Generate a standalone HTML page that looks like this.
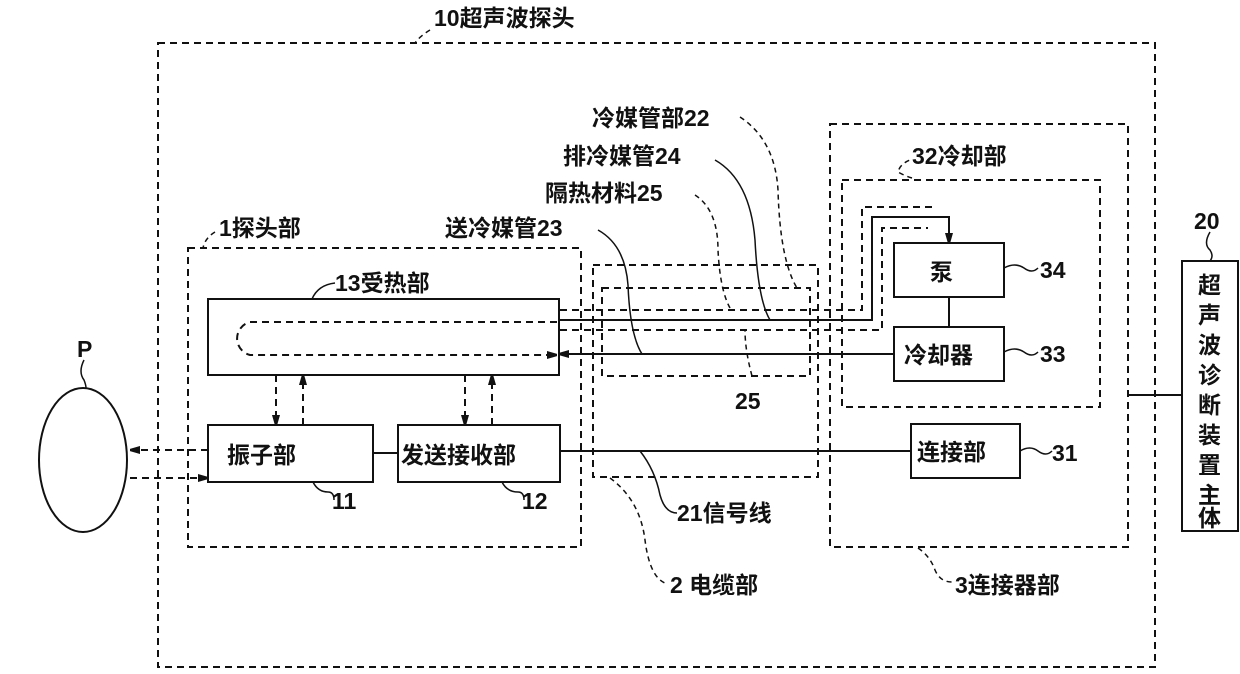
<!DOCTYPE html>
<html><head><meta charset="utf-8"><style>
body{margin:0;background:#fff}
svg text{font-family:"Liberation Sans","Noto Sans CJK SC",sans-serif;font-size:23px;fill:#111;font-weight:bold}
</style></head><body>
<svg width="1240" height="669" viewBox="0 0 1240 669" xmlns="http://www.w3.org/2000/svg">
<defs>
<marker id="a" markerWidth="10" markerHeight="8" refX="10" refY="4" orient="auto" markerUnits="userSpaceOnUse"><path d="M0,0 L14,4 L0,8 Z" fill="#111"/></marker>
</defs>
<g fill="none" stroke="#111" stroke-width="2" stroke-dasharray="7,5">
<rect x="158" y="43" width="997" height="624"/>
<rect x="188" y="248" width="393" height="299"/>
<rect x="593" y="265" width="225" height="212"/>
<rect x="602" y="288" width="208" height="88"/>
<rect x="830" y="124" width="298" height="423"/>
<rect x="842" y="180" width="258" height="227"/>
<path d="M557,322 H250 A17,17 0 0 0 250,355 H557" marker-end="url(#a)"/>
<line x1="276" y1="375" x2="276" y2="425" marker-end="url(#a)"/>
<line x1="303" y1="425" x2="303" y2="375" marker-end="url(#a)"/>
<line x1="465" y1="375" x2="465" y2="425" marker-end="url(#a)"/>
<line x1="492" y1="425" x2="492" y2="375" marker-end="url(#a)"/>
<line x1="208" y1="450" x2="130" y2="450" marker-end="url(#a)"/>
<line x1="130" y1="478" x2="208" y2="478" marker-end="url(#a)"/>
<path d="M560,310 H862 V207 H932"/>
<path d="M560,330 H882 V228 H928"/>
</g>
<g fill="none" stroke="#111" stroke-width="1.5" stroke-dasharray="5,4">
<path d="M430,30 Q420,36 415,43"/>
<path d="M215,232 Q205,238 203,248"/>
<path d="M740,117 Q775,140 778,190 Q780,260 797,288"/>
<path d="M695,195 Q718,210 718,250 Q720,290 730,308"/>
<path d="M752,376 Q745,350 745,330"/>
<path d="M610,478 Q640,500 645,540 Q650,580 668,584"/>
<path d="M918,548 Q930,556 935,570 Q940,582 952,582"/>
<path d="M912,178 Q905,176 898,172 Q900,164 910,160"/>
</g>
<g fill="none" stroke="#111" stroke-width="1.5">
<path d="M715,160 Q750,180 755,240 Q758,300 770,320"/>
<path d="M598,230 Q625,245 628,285 Q630,335 642,354"/>
<path d="M640,451 Q655,470 660,495 Q665,513 677,513"/>
<path d="M312,299 Q318,285 335,283"/>
<path d="M84,360 Q78,372 84,380 Q88,390 84,392"/>
<path d="M313,482 Q318,492 328,492 Q334,492 334,500"/>
<path d="M502,482 Q507,492 518,492 Q524,492 524,500"/>
<path d="M1004,268 Q1015,262 1024,268 Q1032,274 1038,268"/>
<path d="M1004,352 Q1015,346 1024,352 Q1032,358 1038,352"/>
<path d="M1020,451 Q1030,445 1038,451 Q1046,457 1052,451"/>
<path d="M1210,232 Q1203,244 1210,250 Q1214,256 1210,261"/>
</g>
<g fill="#fff" stroke="#111" stroke-width="2">
<rect x="208" y="299" width="351" height="76" fill="none"/>
<rect x="208" y="425" width="165" height="57"/>
<rect x="398" y="425" width="162" height="57"/>
<rect x="894" y="243" width="110" height="54"/>
<rect x="894" y="327" width="110" height="54"/>
<rect x="911" y="424" width="109" height="54"/>
<rect x="1182" y="261" width="56" height="270"/>
<ellipse cx="83" cy="460" rx="44" ry="72"/>
</g>
<g stroke="#111" stroke-width="2" fill="none">
<path d="M559,320 H872 V217 H949 V243" marker-end="url(#a)"/>
<line x1="894" y1="354" x2="559" y2="354" marker-end="url(#a)"/>
<line x1="949" y1="297" x2="949" y2="327"/>
<line x1="373" y1="453" x2="398" y2="453"/>
<line x1="560" y1="451" x2="911" y2="451"/>
<line x1="1128" y1="395" x2="1182" y2="395"/>
</g>
<text x="434" y="26">10超声波探头</text>
<text x="592" y="126">冷媒管部22</text>
<text x="563" y="164">排冷媒管24</text>
<text x="545" y="201">隔热材料25</text>
<text x="445" y="236">送冷媒管23</text>
<text x="219" y="236">1探头部</text>
<text x="335" y="291">13受热部</text>
<text x="912" y="164">32冷却部</text>
<text x="77" y="357">P</text>
<text x="227" y="463" font-size="25">振子部</text>
<text x="401" y="463" font-size="25">发送接收部</text>
<text x="930" y="280" font-size="25">泵</text>
<text x="904" y="363" font-size="25">冷却器</text>
<text x="917" y="460" font-size="25">连接部</text>
<text x="1040" y="278">34</text>
<text x="1040" y="362">33</text>
<text x="1052" y="461">31</text>
<text x="735" y="409">25</text>
<text x="332" y="509">11</text>
<text x="522" y="509">12</text>
<text x="677" y="521">21信号线</text>
<text x="670" y="593">2 电缆部</text>
<text x="955" y="593">3连接器部</text>
<text x="1194" y="229">20</text>
<g font-size="24">
<text x="1198" y="293" font-size="24">超</text>
<text x="1198" y="323" font-size="24">声</text>
<text x="1198" y="353" font-size="24">波</text>
<text x="1198" y="383" font-size="24">诊</text>
<text x="1198" y="413" font-size="24">断</text>
<text x="1198" y="443" font-size="24">装</text>
<text x="1198" y="473" font-size="24">置</text>
<text x="1198" y="503" font-size="24">主</text>
<text x="1198" y="526" font-size="24">体</text>
</g>
</svg>
</body></html>
